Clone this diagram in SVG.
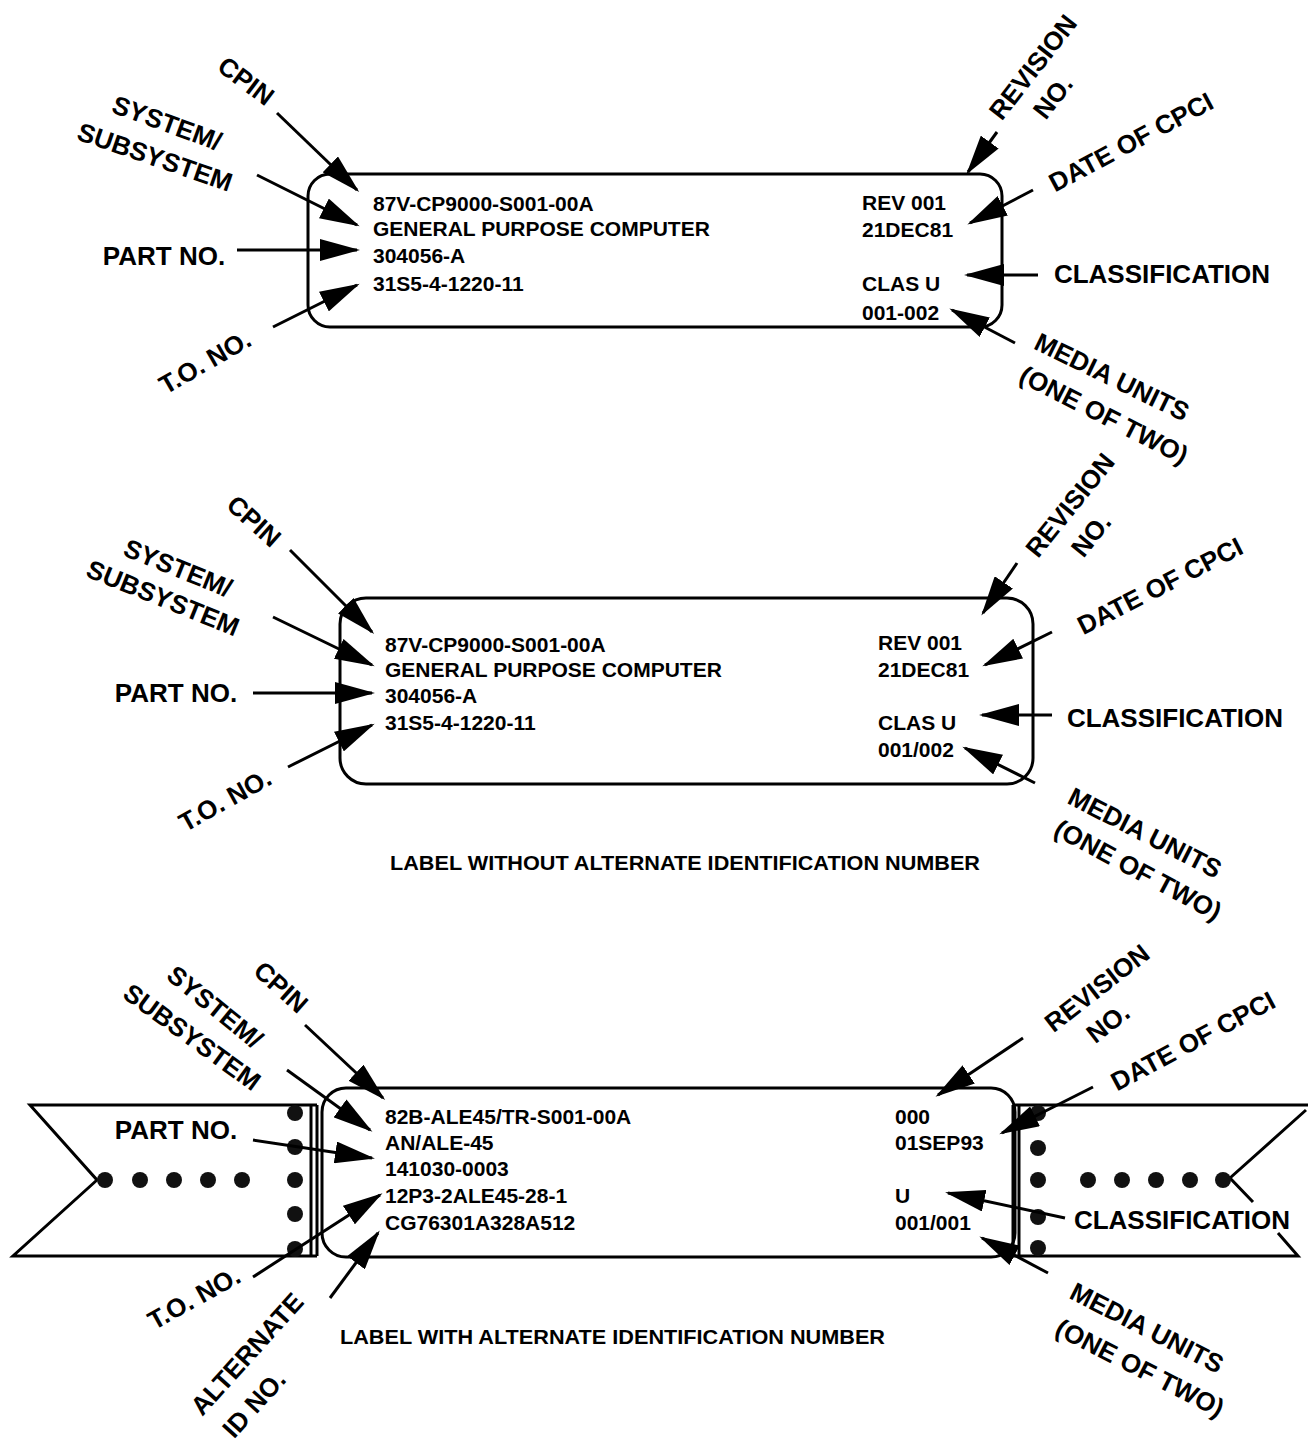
<svg xmlns="http://www.w3.org/2000/svg" width="1308" height="1448" viewBox="0 0 1308 1448">
<defs>
<marker id="ah" markerUnits="userSpaceOnUse" viewBox="0 0 40 22" refX="37" refY="11" markerWidth="40" markerHeight="22" orient="auto">
<path d="M0,0 L40,11 L0,22 z" fill="#000"/>
</marker>
</defs>
<style>
.box{fill:none;stroke:#000;stroke-width:3}
.ln{fill:none;stroke:#000;stroke-width:3}
.arr{fill:none;stroke:#000;stroke-width:3;marker-end:url(#ah)}
.t{font-family:"Liberation Sans",Arial,sans-serif;font-weight:bold;font-size:21px;fill:#000}
.lbl{font-family:"Liberation Sans",Arial,sans-serif;font-weight:bold;font-size:26px;fill:#000;text-anchor:middle}
.dot{fill:#111}
</style>
<rect width="1308" height="1448" fill="#fff"/>

<!-- Panel 1 -->
<g id="label1">
<rect class="box" x="308" y="174" width="694" height="153" rx="22"/>
<text class="t" x="373" y="211">87V-CP9000-S001-00A</text>
<text class="t" x="373" y="236">GENERAL PURPOSE COMPUTER</text>
<text class="t" x="373" y="263">304056-A</text>
<text class="t" x="373" y="291">31S5-4-1220-11</text>
<text class="t" x="862" y="210">REV 001</text>
<text class="t" x="862" y="237">21DEC81</text>
<text class="t" x="862" y="291">CLAS U</text>
<text class="t" x="862" y="320">001-002</text>
</g>
<g id="p1-cpin"><text class="lbl" transform="rotate(37 246 81)" x="246" y="81" dy="9">CPIN</text></g>
<g id="p1-system"><text class="lbl" transform="rotate(20 167 123)" x="167" y="123" dy="9">SYSTEM/</text>
<text class="lbl" transform="rotate(19 155 157)" x="155" y="157" dy="9">SUBSYSTEM</text></g>
<g id="p1-part"><text class="lbl" x="164" y="256" dy="9">PART NO.</text></g>
<g id="p1-to"><text class="lbl" transform="rotate(-30 205 362)" x="205" y="362" dy="9">T.O. NO.</text></g>
<g id="p1-rev"><text class="lbl" transform="rotate(-52 1033 67)" x="1033" y="67" dy="9">REVISION</text>
<text class="lbl" transform="rotate(-52 1053 97)" x="1053" y="97" dy="9">NO.</text></g>
<g id="p1-date"><text class="lbl" transform="rotate(-28 1131 142)" x="1131" y="142" dy="9">DATE OF CPCI</text></g>
<g id="p1-class"><text class="lbl" x="1162" y="274" dy="9">CLASSIFICATION</text></g>
<g id="p1-media"><text class="lbl" transform="rotate(26 1112 377)" x="1112" y="377" dy="9">MEDIA UNITS</text>
<text class="lbl" transform="rotate(27 1104 415)" x="1104" y="415" dy="9">(ONE OF TWO)</text></g>

<!-- Panel 2 -->
<g id="label2">
<rect class="box" x="340" y="598" width="693" height="186" rx="26"/>
<text class="t" x="385" y="652">87V-CP9000-S001-00A</text>
<text class="t" x="385" y="677">GENERAL PURPOSE COMPUTER</text>
<text class="t" x="385" y="703">304056-A</text>
<text class="t" x="385" y="730">31S5-4-1220-11</text>
<text class="t" x="878" y="650">REV 001</text>
<text class="t" x="878" y="677">21DEC81</text>
<text class="t" x="878" y="730">CLAS U</text>
<text class="t" x="878" y="757">001/002</text>
</g>
<g id="p2-cpin"><text class="lbl" transform="rotate(42 254 521)" x="254" y="521" dy="9">CPIN</text></g>
<g id="p2-system"><text class="lbl" transform="rotate(22 178 568)" x="178" y="568" dy="9">SYSTEM/</text>
<text class="lbl" transform="rotate(22 163 598)" x="163" y="598" dy="9">SUBSYSTEM</text></g>
<g id="p2-part"><text class="lbl" x="176" y="693" dy="9">PART NO.</text></g>
<g id="p2-to"><text class="lbl" transform="rotate(-29 225 800)" x="225" y="800" dy="9">T.O. NO.</text></g>
<g id="p2-rev"><text class="lbl" transform="rotate(-51 1070 505)" x="1070" y="505" dy="9">REVISION</text>
<text class="lbl" transform="rotate(-51 1091 535)" x="1091" y="535" dy="9">NO.</text></g>
<g id="p2-date"><text class="lbl" transform="rotate(-27 1160 586)" x="1160" y="586" dy="9">DATE OF CPCI</text></g>
<g id="p2-class"><text class="lbl" x="1175" y="718" dy="9">CLASSIFICATION</text></g>
<g id="p2-media"><text class="lbl" transform="rotate(27 1145 833)" x="1145" y="833" dy="9">MEDIA UNITS</text>
<text class="lbl" transform="rotate(28 1138 870)" x="1138" y="870" dy="9">(ONE OF TWO)</text></g>
<g id="caption1"><text class="t" x="390" y="870" textLength="590" lengthAdjust="spacingAndGlyphs">LABEL WITHOUT ALTERNATE IDENTIFICATION NUMBER</text></g>

<!-- Panel 3 strips -->
<g id="strip-left">
<polyline class="ln" points="317,1105 30,1105 97,1180 13,1256 317,1256"/>
<line class="ln" x1="311" y1="1105" x2="311" y2="1256" stroke-width="2"/>
<line class="ln" x1="317" y1="1105" x2="317" y2="1256" stroke-width="2"/>
<circle class="dot" cx="105" cy="1180" r="8"/>
<circle class="dot" cx="140" cy="1180" r="8"/>
<circle class="dot" cx="174" cy="1180" r="8"/>
<circle class="dot" cx="208" cy="1180" r="8"/>
<circle class="dot" cx="242" cy="1180" r="8"/>
<circle class="dot" cx="295" cy="1113" r="8"/>
<circle class="dot" cx="295" cy="1147" r="8"/>
<circle class="dot" cx="295" cy="1180" r="8"/>
<circle class="dot" cx="295" cy="1214" r="8"/>
<circle class="dot" cx="295" cy="1249" r="8"/>
</g>
<g id="strip-right">
<polyline class="ln" points="1013,1105 1308,1105"/>
<polyline class="ln" points="1013,1256 1298,1256 1278,1233"/>
<polyline class="ln" points="1306,1110 1230,1178 1253,1202"/>
<line class="ln" x1="1013" y1="1105" x2="1013" y2="1256" stroke-width="2"/>
<line class="ln" x1="1019" y1="1105" x2="1019" y2="1256" stroke-width="2"/>
<circle class="dot" cx="1038" cy="1113" r="8"/>
<circle class="dot" cx="1038" cy="1148" r="8"/>
<circle class="dot" cx="1038" cy="1180" r="8"/>
<circle class="dot" cx="1038" cy="1217" r="8"/>
<circle class="dot" cx="1038" cy="1248" r="8"/>
<circle class="dot" cx="1088" cy="1180" r="8"/>
<circle class="dot" cx="1122" cy="1180" r="8"/>
<circle class="dot" cx="1156" cy="1180" r="8"/>
<circle class="dot" cx="1190" cy="1180" r="8"/>
<circle class="dot" cx="1223" cy="1180" r="8"/>
</g>
<g id="label3">
<rect class="box" x="322" y="1088" width="693" height="169" rx="24"/>
<text class="t" x="385" y="1124">82B-ALE45/TR-S001-00A</text>
<text class="t" x="385" y="1150">AN/ALE-45</text>
<text class="t" x="385" y="1176">141030-0003</text>
<text class="t" x="385" y="1203">12P3-2ALE45-28-1</text>
<text class="t" x="385" y="1230">CG76301A328A512</text>
<text class="t" x="895" y="1124">000</text>
<text class="t" x="895" y="1150">01SEP93</text>
<text class="t" x="895" y="1203">U</text>
<text class="t" x="895" y="1230">001/001</text>
</g>
<g id="p3-cpin"><text class="lbl" transform="rotate(42 281 987)" x="281" y="987" dy="9">CPIN</text></g>
<g id="p3-system"><text class="lbl" transform="rotate(39 215 1007)" x="215" y="1007" dy="9">SYSTEM/</text>
<text class="lbl" transform="rotate(36 192 1037)" x="192" y="1037" dy="9">SUBSYSTEM</text></g>
<g id="p3-part"><text class="lbl" x="176" y="1130" dy="9">PART NO.</text></g>
<g id="p3-to"><text class="lbl" transform="rotate(-29 194 1298)" x="194" y="1298" dy="9">T.O. NO.</text></g>
<g id="p3-alt"><text class="lbl" transform="rotate(-48 247 1354)" x="247" y="1354" dy="9">ALTERNATE</text>
<text class="lbl" transform="rotate(-48 254 1404)" x="254" y="1404" dy="9">ID NO.</text></g>
<g id="p3-rev"><text class="lbl" transform="rotate(-38 1097 988)" x="1097" y="988" dy="9">REVISION</text>
<text class="lbl" transform="rotate(-38 1108 1023)" x="1108" y="1023" dy="9">NO.</text></g>
<g id="p3-date"><text class="lbl" transform="rotate(-28 1193 1041)" x="1193" y="1041" dy="9">DATE OF CPCI</text></g>
<g id="p3-class"><text class="lbl" x="1182" y="1220" dy="9">CLASSIFICATION</text></g>
<g id="p3-media"><text class="lbl" transform="rotate(27 1147 1328)" x="1147" y="1328" dy="9">MEDIA UNITS</text>
<text class="lbl" transform="rotate(27 1140 1368)" x="1140" y="1368" dy="9">(ONE OF TWO)</text></g>
<g id="caption2"><text class="t" x="340" y="1344" textLength="545" lengthAdjust="spacingAndGlyphs">LABEL WITH ALTERNATE IDENTIFICATION NUMBER</text></g>

<g id="connectors">
<line class="arr" x1="277" y1="113" x2="357" y2="190"/>
<line class="arr" x1="257" y1="175" x2="357" y2="225"/>
<line class="arr" x1="237" y1="250" x2="357" y2="250"/>
<line class="arr" x1="273" y1="327" x2="357" y2="285"/>
<line class="arr" x1="997" y1="132" x2="968" y2="172"/>
<line class="arr" x1="1033" y1="190" x2="970" y2="223"/>
<line class="arr" x1="1038" y1="275" x2="967" y2="275"/>
<line class="arr" x1="1015" y1="343" x2="952" y2="310"/>

<line class="arr" x1="290" y1="550" x2="372" y2="632"/>
<line class="arr" x1="273" y1="617" x2="372" y2="665"/>
<line class="arr" x1="253" y1="693" x2="372" y2="693"/>
<line class="arr" x1="288" y1="767" x2="372" y2="725"/>
<line class="arr" x1="1017" y1="563" x2="983" y2="613"/>
<line class="arr" x1="1052" y1="632" x2="985" y2="665"/>
<line class="arr" x1="1052" y1="715" x2="982" y2="715"/>
<line class="arr" x1="1035" y1="783" x2="965" y2="748"/>

<line class="arr" x1="305" y1="1025" x2="383" y2="1098"/>
<line class="arr" x1="287" y1="1070" x2="370" y2="1130"/>
<line class="arr" x1="253" y1="1140" x2="372" y2="1158"/>
<line class="arr" x1="253" y1="1277" x2="380" y2="1195"/>
<line class="arr" x1="330" y1="1298" x2="378" y2="1233"/>
<line class="arr" x1="1023" y1="1038" x2="938" y2="1095"/>
<line class="arr" x1="1093" y1="1087" x2="1002" y2="1133"/>
<line class="arr" x1="1065" y1="1218" x2="948" y2="1193"/>
<line class="arr" x1="1048" y1="1273" x2="982" y2="1238"/>
</g>
</svg>
